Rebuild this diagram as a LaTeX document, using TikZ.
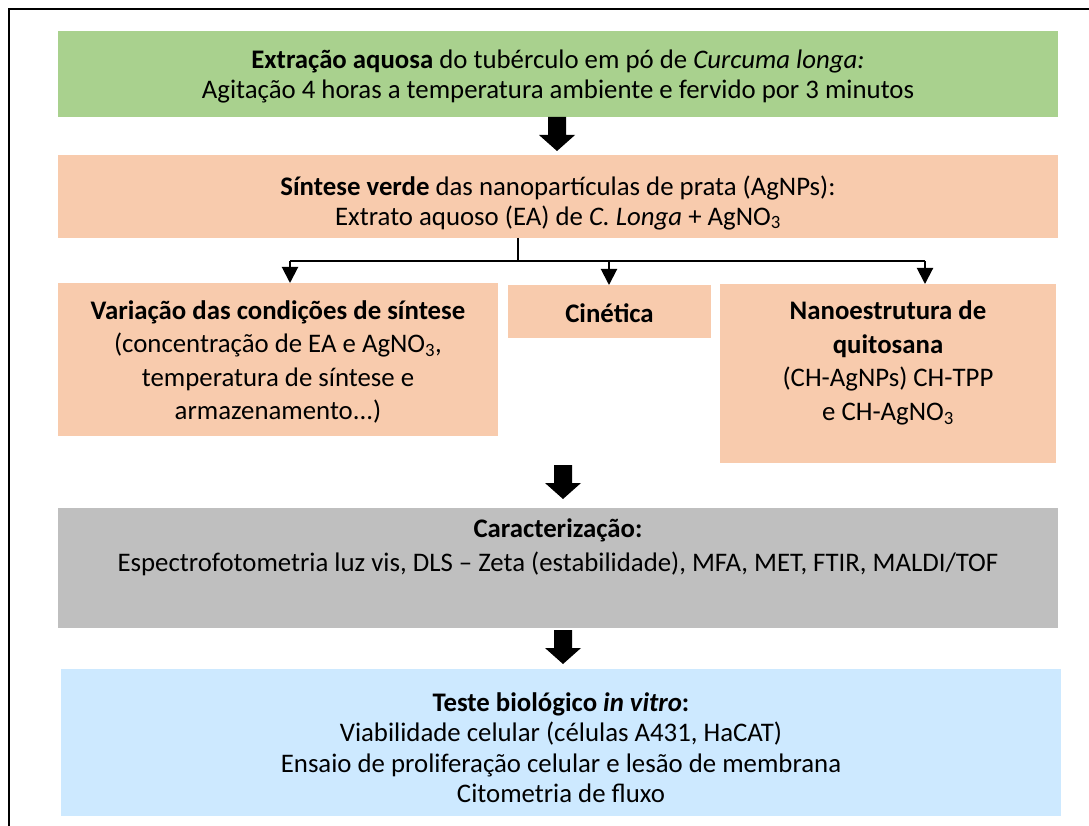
\documentclass[tikz,border=0pt]{standalone}
\usepackage{fontspec}
\setmainfont{Carlito}
\usetikzlibrary{arrows.meta,calc}
\definecolor{cgreen}{HTML}{A9D18E}
\definecolor{cpeach}{HTML}{F8CBAD}
\definecolor{cgray}{HTML}{BFBFBF}
\definecolor{cblue}{HTML}{CDE9FF}
\newcommand{\fs}[1]{\fontsize{26.8}{#1}\selectfont}
\tikzset{
  box/.style={draw=none, rectangle, inner sep=0pt, outer sep=0pt},
  txt/.style={inner sep=0pt, align=center, text=black},
  branch/.style={line width=2pt, -{Triangle[width=16pt,length=16pt]}},
  blockarrow/.style={fill=black, draw=none},
}
\newcommand{\blockarr}[1]{%
  \fill[blockarrow] (#1) ++(-9,0) -- ++(18,0) -- ++(0,18) -- ++(9,0) -- ++(-18,16) -- ++(-18,-16) -- ++(9,0) -- cycle;}
\begin{document}
\begin{tikzpicture}[x=1pt,y=-1pt]
\useasboundingbox (0,0) rectangle (1089,826);
\fill[white] (0,0) rectangle (1089,826);
% frame
\draw[line width=2pt] (9,826) -- (9,9) -- (1089,9);
% boxes
\node[box, fill=cgreen, minimum width=1000pt, minimum height=86pt] (g) at (558,74) {};
\node[txt, font=\fs{30}] (gt) at (558,77) {\textbf{Extração aquosa} do tubérculo em pó de \textit{Curcuma longa:}\\Agitação 4 horas a temperatura ambiente e fervido por 3 minutos};
\node[box, fill=cpeach, minimum width=1000pt, minimum height=83pt] (s) at (558,196.5) {};
\node[txt, font=\fs{29.5}] (st) at (558,203) {\textbf{Síntese verde} das nanopartículas de prata (AgNPs):\\Extrato aquoso (EA) de \textit{C. Longa} + AgNO\textsubscript{3}};
\node[box, fill=cpeach, minimum width=440pt, minimum height=153pt] (l) at (278,359.5) {};
\node[txt, font=\fs{33.3}] (lt) at (278,362) {\textbf{Variação das condições de síntese}\\(concentração de EA e AgNO\textsubscript{3},\\temperatura de síntese e\\armazenamento...)};
\node[box, fill=cpeach, minimum width=203pt, minimum height=53pt] (m) at (609.5,311.5) {};
\node[txt, font=\fs{30}] (mt) at (609.5,313) {\textbf{Cinética}};
\node[box, fill=cpeach, minimum width=336pt, minimum height=179pt] (r) at (888,373.5) {};
\node[txt, font=\fs{33.6}] (rt) at (888,363) {\textbf{Nanoestrutura de}\\\textbf{quitosana}\\(CH-AgNPs) CH-TPP\\e CH-AgNO\textsubscript{3}};
\node[box, fill=cgray, minimum width=1000pt, minimum height=120pt] (c) at (558,568) {};
\node[txt, font=\fs{34}] (ct) at (558,547.5) {\textbf{Caracterização:}\\Espectrofotometria luz vis, DLS – Zeta (estabilidade), MFA, MET, FTIR, MALDI/TOF};
\node[box, fill=cblue, minimum width=1000pt, minimum height=147pt] (b) at (561,742.5) {};
\node[txt, font=\fs{30.5}] (bt) at (561,747.5) {\textbf{Teste biológico \textit{in vitro}:}\\Viabilidade celular (células A431, HaCAT)\\Ensaio de proliferação celular e lesão de membrana\\Citometria de fluxo};
% block arrows
\coordinate (a1) at (557,117);
\coordinate (a2) at (563,465);
\coordinate (a3) at (563,630);
\blockarr{a1}
\blockarr{a2}
\blockarr{a3}
% branches
\coordinate (j) at (518,261);
\coordinate (jl) at (290,261);
\coordinate (jm) at (609,261);
\coordinate (jr) at (925,261);
\draw[line width=2pt] (s.south -| j) -- (j);
\draw[line width=2pt] (jl) -- (jr);
\draw[branch] (jl) -- (jl |- l.north);
\draw[branch] (jm) -- (jm |- m.north);
\draw[branch] (jr) -- (jr |- r.north);
\end{tikzpicture}
\end{document}
